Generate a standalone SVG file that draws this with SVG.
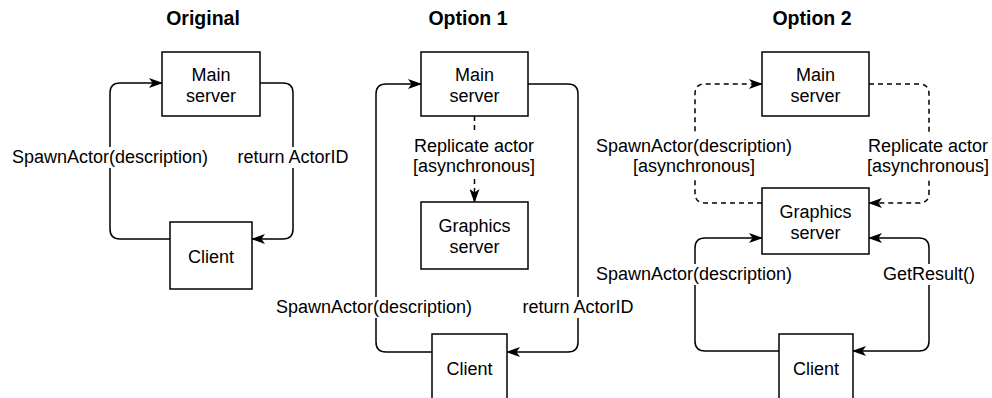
<svg xmlns="http://www.w3.org/2000/svg" width="992" height="398" viewBox="0 0 992 398">
<style>
.box{fill:#fff;stroke:#000;stroke-width:1.5}
.t{font-family:"Liberation Sans",Arial,Helvetica,sans-serif;font-size:18px;fill:#000;text-anchor:middle}
.title{font-family:"Liberation Sans",Arial,Helvetica,sans-serif;font-size:19.5px;font-weight:bold;fill:#000;text-anchor:middle}
.ln{fill:none;stroke:#000;stroke-width:1.5}
.dash{stroke-dasharray:5 4}
.bg{fill:#fff}
</style>
<defs>
<marker id="arr" viewBox="0 0 14 10" refX="13" refY="5" markerWidth="14" markerHeight="10" markerUnits="userSpaceOnUse" orient="auto-start-reverse">
<path d="M0,0 L14,5 L0,10 L3.5,5 Z" fill="#000"/>
</marker>
</defs>
<rect width="992" height="398" fill="#fff"/>

<g id="titles">
<text class="title" x="203" y="25">Original</text>
<text class="title" x="468" y="25">Option 1</text>
<text class="title" x="812" y="25">Option 2</text>
</g>

<g id="connectors">
<!-- Original -->
<path class="ln" d="M170,239 H120 Q110,239 110,229 V93 Q110,83 120,83 H162" marker-end="url(#arr)"/>
<path class="ln" d="M260,83 H283 Q293,83 293,93 V229 Q293,239 283,239 H252" marker-end="url(#arr)"/>
<!-- Option 1 -->
<path class="ln" d="M432,352 H386 Q376,352 376,342 V94 Q376,84 386,84 H421" marker-end="url(#arr)"/>
<path class="ln" d="M528,84 H568 Q578,84 578,94 V342 Q578,352 568,352 H507" marker-end="url(#arr)"/>
<path class="ln dash" d="M474.5,116 V202" marker-end="url(#arr)"/>
<!-- Option 2 -->
<path class="ln dash" d="M762,203 H705 Q695,203 695,193 V94 Q695,84 705,84 H762" marker-end="url(#arr)"/>
<path class="ln dash" d="M869,84 H919 Q929,84 929,94 V193 Q929,203 919,203 H869" marker-end="url(#arr)"/>
<path class="ln" d="M779,351 H705 Q695,351 695,341 V248 Q695,238 705,238 H762" marker-end="url(#arr)"/>
<path class="ln" d="M869,238 H919 Q929,238 929,248 V341 Q929,351 919,351 H853" marker-start="url(#arr)" marker-end="url(#arr)"/>
</g>

<g id="labels">
<rect class="bg" x="11" y="147" width="198" height="21"/>
<text class="t" x="110" y="163">SpawnActor(description)</text>
<rect class="bg" x="236" y="147" width="114" height="21"/>
<text class="t" x="293" y="163">return ActorID</text>

<rect class="bg" x="412" y="134" width="124" height="43"/>
<text class="t" x="474" y="152">Replicate actor</text>
<text class="t" x="474" y="172">[asynchronous]</text>
<rect class="bg" x="275" y="297" width="198" height="21"/>
<text class="t" x="374" y="313">SpawnActor(description)</text>
<rect class="bg" x="521" y="297" width="114" height="21"/>
<text class="t" x="578" y="313">return ActorID</text>

<rect class="bg" x="595" y="134" width="198" height="43"/>
<text class="t" x="694" y="152">SpawnActor(description)</text>
<text class="t" x="694" y="172">[asynchronous]</text>
<rect class="bg" x="866" y="134" width="124" height="43"/>
<text class="t" x="928" y="152">Replicate actor</text>
<text class="t" x="928" y="172">[asynchronous]</text>
<rect class="bg" x="595" y="264" width="198" height="21"/>
<text class="t" x="694" y="280">SpawnActor(description)</text>
<rect class="bg" x="882" y="264" width="94" height="21"/>
<text class="t" x="929" y="280">GetResult()</text>
</g>

<g id="orig-main">
<rect class="box" x="162" y="52" width="98" height="64"/>
<text class="t" x="211" y="81">Main</text>
<text class="t" x="211" y="102">server</text>
</g>
<g id="orig-client">
<rect class="box" x="170" y="222" width="82" height="67"/>
<text class="t" x="211" y="263">Client</text>
</g>

<g id="opt1-main">
<rect class="box" x="421" y="52" width="107" height="64"/>
<text class="t" x="474.5" y="81">Main</text>
<text class="t" x="474.5" y="102">server</text>
</g>
<g id="opt1-graphics">
<rect class="box" x="421" y="202" width="107" height="67"/>
<text class="t" x="474.5" y="232">Graphics</text>
<text class="t" x="474.5" y="253">server</text>
</g>
<g id="opt1-client">
<rect class="box" x="432" y="334" width="75" height="67"/>
<text class="t" x="469.5" y="375">Client</text>
</g>

<g id="opt2-main">
<rect class="box" x="762" y="52" width="107" height="64"/>
<text class="t" x="815.5" y="81">Main</text>
<text class="t" x="815.5" y="102">server</text>
</g>
<g id="opt2-graphics">
<rect class="box" x="762" y="188" width="107" height="66"/>
<text class="t" x="815.5" y="218">Graphics</text>
<text class="t" x="815.5" y="239">server</text>
</g>
<g id="opt2-client">
<rect class="box" x="779" y="334" width="74" height="67"/>
<text class="t" x="816" y="375">Client</text>
</g>
</svg>
